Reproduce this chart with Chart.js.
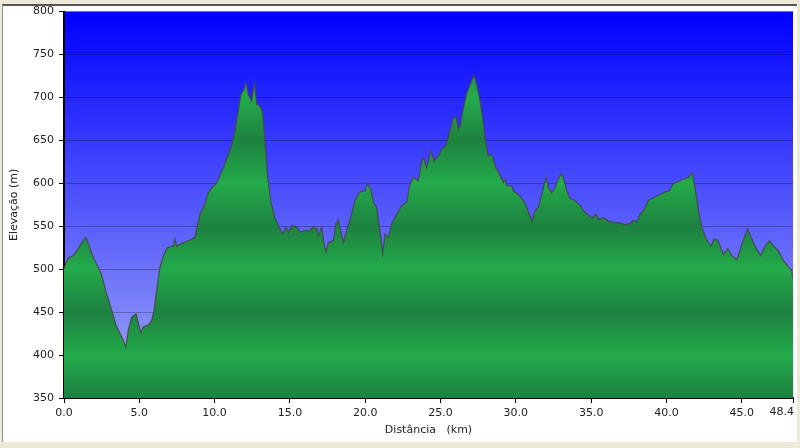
<!DOCTYPE html>
<html>
<head>
<meta charset="utf-8">
<script src="https://cdn.jsdelivr.net/npm/chart.js@4.4.1/dist/chart.umd.min.js"></script>
<style>
  html, body { margin: 0; padding: 0; }
  body { width: 800px; height: 448px; background: #ece9d8; position: relative; overflow: hidden; }
  #frame { position: absolute; left: 2px; top: 4px; width: 795px; height: 438px; background: #fff;
           border-top: 2px solid #555; border-left: 1px solid #999; box-sizing: border-box; }
  #profile { position: absolute; left: 0; top: 0; }
</style>
</head>
<body>
<div id="frame"></div>
<canvas id="profile" width="800" height="448"></canvas>
<script>
// distance along the track (km) and elevation (m)
const distances = [
  0.0, 0.1, 0.29, 0.62, 0.95, 1.17, 1.46, 1.62, 1.95, 2.28, 2.5, 2.83, 3.17, 3.45, 3.72, 3.94,
  4.1, 4.27, 4.49, 4.78, 4.94, 5.09, 5.27, 5.6, 5.82, 5.98, 6.15, 6.37, 6.6, 6.86, 7.26, 7.37,
  7.48, 7.92, 8.37, 8.7, 8.81, 9.03, 9.36, 9.58, 9.91, 10.14, 10.36, 10.58, 10.91, 11.14, 11.35,
  11.57, 11.73, 11.9, 12.09, 12.24, 12.46, 12.64, 12.8, 13.0, 13.17, 13.35, 13.5, 13.72, 14.0,
  14.34, 14.52, 14.74, 14.9, 15.12, 15.45, 15.67, 16.0, 16.33, 16.55, 16.78, 16.89, 17.11, 17.26,
  17.4, 17.55, 17.88, 18.06, 18.21, 18.44, 18.55, 18.77, 19.1, 19.32, 19.65, 19.99, 20.14, 20.36,
  20.58, 20.76, 20.94, 21.16, 21.31, 21.53, 21.76, 22.09, 22.42, 22.75, 22.97, 23.19, 23.53,
  23.75, 23.86, 24.09, 24.35, 24.57, 24.86, 25.08, 25.37, 25.59, 25.85, 26.03, 26.18, 26.3,
  26.52, 26.74, 26.96, 27.22, 27.4, 27.62, 27.8, 27.95, 28.17, 28.4, 28.62, 28.9, 29.17, 29.28,
  29.39, 29.73, 29.84, 30.17, 30.5, 30.72, 31.06, 31.27, 31.5, 31.72, 32.0, 32.16, 32.38, 32.6,
  32.82, 32.98, 33.15, 33.38, 33.6, 33.93, 34.26, 34.6, 35.04, 35.33, 35.48, 35.81, 36.14, 36.59,
  36.92, 37.25, 37.58, 37.8, 38.03, 38.25, 38.47, 38.8, 39.13, 39.58, 39.91, 40.19, 40.42, 40.79,
  41.12, 41.45, 41.72, 41.9, 42.12, 42.34, 42.67, 42.96, 43.16, 43.4, 43.78, 44.07, 44.33, 44.67,
  45.0, 45.38, 45.67, 45.96, 46.26, 46.55, 46.84, 47.1, 47.44, 47.76, 48.09, 48.32, 48.4
];
const elevations = [
  500, 506, 513, 516, 524, 531, 537, 529, 513, 502, 493, 471, 452, 435, 425, 417,
  409, 429, 444, 448, 437, 426, 433, 435, 440, 452, 475, 502, 516, 525, 527, 535,
  527, 531, 534, 537, 547, 564, 576, 589, 597, 600, 609, 618, 634, 645, 661,
  684, 703, 708, 717, 703, 696, 717, 692, 690, 684, 649, 611, 580, 560,
  547, 541, 549, 543, 551, 549, 543, 545, 545, 549, 547, 539, 549, 529,
  520, 531, 533, 553, 558, 539, 531, 545, 564, 580, 590, 591, 600, 593,
  576, 572, 549, 518, 541, 537, 553, 564, 574, 578, 599, 607, 603,
  626, 630, 618, 638, 626, 632, 640, 645, 659, 676, 678, 663, 667,
  688, 705, 715, 726, 715, 696, 676, 653, 632, 634, 620, 611, 601, 605,
  597, 597, 591, 587, 580, 572, 556, 568, 572, 587, 607, 595, 589, 595,
  605, 611, 607, 591, 582, 580, 574, 566, 560, 564, 558, 560, 556, 554,
  554, 552, 553, 557, 555, 564, 568, 580, 583, 587, 590, 591, 599, 602,
  605, 607, 612, 595, 568, 549, 534, 527, 535, 534, 517, 524, 516, 511,
  529, 547, 535, 524, 516, 527, 533, 527, 521, 510, 503, 498, 488
];
const distanceTicks = [0, 5, 10, 15, 20, 25, 30, 35, 40, 45, 48.4];
const elevationMin = 350;
const elevationMax = 800;
const elevationStep = 50;

const points = distances.map((d, i) => ({ x: d, y: elevations[i] }));
const lastDistance = distanceTicks[distanceTicks.length - 1];

// alternating light/dark bands in the ground fill, one band per grid step
function groundFill(context) {
  const chart = context.chart;
  const area = chart.chartArea;
  if (!area) return '#22a84a';
  const yScale = chart.scales.y;
  const g = chart.ctx.createLinearGradient(0, area.top, 0, area.bottom);
  for (let v = elevationMin; v <= elevationMax; v += elevationStep) {
    let t = (yScale.getPixelForValue(v) - area.top) / (area.bottom - area.top);
    t = Math.min(1, Math.max(0, t));
    g.addColorStop(t, (v / elevationStep) % 2 ? '#1d8140' : '#24ab4b');
  }
  return g;
}

const skyPlugin = {
  id: 'sky',
  beforeDraw(chart) {
    const { ctx, chartArea: a } = chart;
    const g = ctx.createLinearGradient(0, a.top, 0, a.bottom);
    g.addColorStop(0, '#0000ff');
    g.addColorStop(1, '#a2abf6');
    ctx.save();
    ctx.fillStyle = g;
    ctx.fillRect(a.left, a.top, a.right - a.left, a.bottom - a.top);
    ctx.restore();
  }
};

// the last distance label sits to the left of its tick
const lastLabelPlugin = {
  id: 'lastLabel',
  afterDraw(chart) {
    const xScale = chart.scales.x;
    const ctx = chart.ctx;
    ctx.save();
    ctx.font = '11px "DejaVu Sans"';
    ctx.fillStyle = '#222';
    ctx.textAlign = 'right';
    ctx.textBaseline = 'top';
    ctx.fillText(lastDistance.toFixed(1), xScale.getPixelForValue(lastDistance) + 1, xScale.top + 9);
    ctx.restore();
  }
};

const tickFont = { family: 'DejaVu Sans', size: 11 };

new Chart(document.getElementById('profile'), {
  type: 'line',
  data: {
    datasets: [{
      data: points,
      borderColor: 'rgba(70, 70, 70, 0.85)',
      borderWidth: 1.3,
      backgroundColor: groundFill,
      fill: 'start',
      pointRadius: 0,
      tension: 0
    }]
  },
  options: {
    responsive: false,
    animation: false,
    layout: { padding: { top: 10, right: 7, bottom: 0, left: 0 } },
    plugins: { legend: { display: false }, tooltip: { enabled: false } },
    scales: {
      x: {
        type: 'linear',
        min: 0,
        max: lastDistance,
        z: 1,
        afterBuildTicks: s => { s.ticks = distanceTicks.map(v => ({ value: v })); },
        afterFit: s => { s.height = 50; },
        border: { display: true, color: '#000', width: 2 },
        grid: { drawOnChartArea: false, tickColor: '#000', tickLength: 5 },
        ticks: {
          autoSkip: false,
          maxRotation: 0,
          padding: 4,
          color: '#222',
          font: tickFont,
          callback: v => (v === lastDistance ? '' : Number(v).toFixed(1))
        },
        title: {
          display: true,
          text: 'Distância   (km)',
          color: '#222',
          font: tickFont,
          padding: { top: 0, bottom: 11 }
        }
      },
      y: {
        min: elevationMin,
        max: elevationMax,
        z: 1,
        afterFit: s => { s.width = 64; },
        border: { display: true, color: '#000', width: 2 },
        grid: {
          color: ctx => (ctx.tick && ctx.tick.value === elevationMax ? 'rgba(90, 110, 255, 1)' : 'rgba(0, 0, 0, 0.25)'),
          tickColor: '#000',
          tickLength: 5,
          lineWidth: 1
        },
        ticks: {
          stepSize: elevationStep,
          padding: 5,
          color: '#222',
          font: tickFont,
          callback: v => String(v)
        },
        title: {
          display: true,
          text: 'Elevação (m)',
          color: '#222',
          font: tickFont,
          padding: { top: 8, bottom: 0 }
        }
      }
    }
  },
  plugins: [skyPlugin, lastLabelPlugin]
});
</script>
</body>
</html>
